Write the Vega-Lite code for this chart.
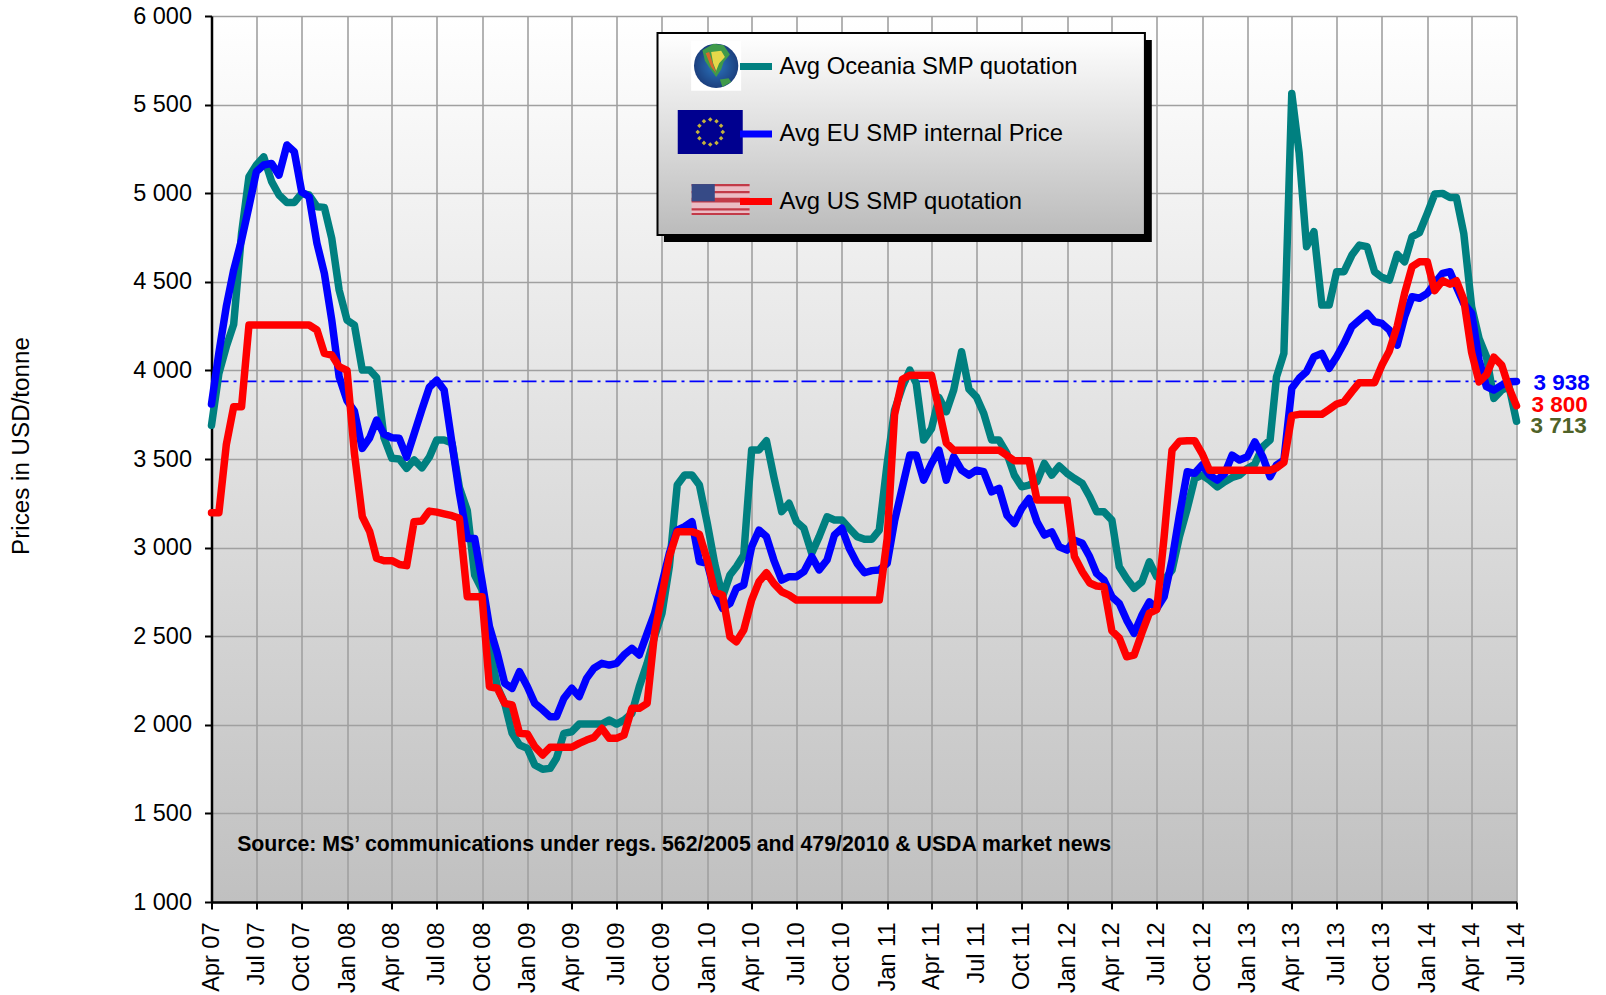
{"$schema":"https://vega.github.io/schema/vega-lite/v6.json","width":1305,"height":886,"autosize":"none","padding":{"left":211.5,"top":16,"right":89.5,"bottom":93},"background":"white","config":{"font":"Liberation Sans","axis":{"labelColor":"#000000","titleColor":"#000000"}},"view":{"stroke":null,"fill":{"gradient":"linear","x1":0,"y1":0,"x2":0,"y2":1,"stops":[{"offset":0,"color":"#ffffff"},{"offset":1,"color":"#c0c0c0"}]}},"datasets":{"prices":[
{"date":"2007-04-01","oceania":3690,"eu":3810,"us":3197},{"date":"2007-04-16","oceania":3983,"eu":4100,"us":3197},{"date":"2007-05-01","oceania":4134,"eu":4360,"us":3580},{"date":"2007-05-16","oceania":4260,"eu":4566,"us":3795},{"date":"2007-06-01","oceania":4773,"eu":4736,"us":3795},{"date":"2007-06-16","oceania":5093,"eu":4924,"us":4256},{"date":"2007-07-01","oceania":5159,"eu":5121,"us":4256},{"date":"2007-07-16","oceania":5205,"eu":5159,"us":4256},{"date":"2007-08-01","oceania":5065,"eu":5168,"us":4256},{"date":"2007-08-16","oceania":4990,"eu":5102,"us":4256},{"date":"2007-09-01","oceania":4948,"eu":5272,"us":4256},{"date":"2007-09-16","oceania":4948,"eu":5234,"us":4256},{"date":"2007-10-01","oceania":4999,"eu":5008,"us":4256},{"date":"2007-10-16","oceania":4990,"eu":4980,"us":4256},{"date":"2007-11-01","oceania":4924,"eu":4717,"us":4228},{"date":"2007-11-16","oceania":4920,"eu":4548,"us":4096},{"date":"2007-12-01","oceania":4745,"eu":4284,"us":4087},{"date":"2007-12-16","oceania":4453,"eu":3964,"us":4021},
{"date":"2008-01-01","oceania":4284,"eu":3830,"us":4000},{"date":"2008-01-16","oceania":4256,"eu":3770,"us":3532},{"date":"2008-02-01","oceania":4002,"eu":3560,"us":3175},{"date":"2008-02-16","oceania":4002,"eu":3620,"us":3090},{"date":"2008-03-01","oceania":3960,"eu":3720,"us":2940},{"date":"2008-03-16","oceania":3620,"eu":3640,"us":2926},{"date":"2008-04-01","oceania":3504,"eu":3620,"us":2926},{"date":"2008-04-16","oceania":3500,"eu":3617,"us":2905},{"date":"2008-05-01","oceania":3447,"eu":3510,"us":2898},{"date":"2008-05-16","oceania":3495,"eu":3640,"us":3146},{"date":"2008-06-01","oceania":3450,"eu":3780,"us":3150},{"date":"2008-06-16","oceania":3510,"eu":3905,"us":3206},{"date":"2008-07-01","oceania":3607,"eu":3945,"us":3200},{"date":"2008-07-16","oceania":3607,"eu":3890,"us":3190},{"date":"2008-08-01","oceania":3590,"eu":3588,"us":3180},{"date":"2008-08-16","oceania":3340,"eu":3306,"us":3165},{"date":"2008-09-01","oceania":3210,"eu":3052,"us":2723},{"date":"2008-09-16","oceania":2845,"eu":3052,"us":2723},{"date":"2008-10-01","oceania":2761,"eu":2810,"us":2723},{"date":"2008-10-16","oceania":2441,"eu":2554,"us":2215},{"date":"2008-11-01","oceania":2215,"eu":2403,"us":2206},{"date":"2008-11-16","oceania":2121,"eu":2234,"us":2121},{"date":"2008-12-01","oceania":1952,"eu":2206,"us":2112},{"date":"2008-12-16","oceania":1886,"eu":2300,"us":1952},
{"date":"2009-01-01","oceania":1867,"eu":2215,"us":1948},{"date":"2009-01-16","oceania":1773,"eu":2121,"us":1877},{"date":"2009-02-01","oceania":1749,"eu":2084,"us":1830},{"date":"2009-02-16","oceania":1754,"eu":2046,"us":1873},{"date":"2009-03-01","oceania":1811,"eu":2046,"us":1873},{"date":"2009-03-16","oceania":1952,"eu":2149,"us":1873},{"date":"2009-04-01","oceania":1961,"eu":2206,"us":1873},{"date":"2009-04-16","oceania":2004,"eu":2159,"us":1895},{"date":"2009-05-01","oceania":2004,"eu":2262,"us":1914},{"date":"2009-05-16","oceania":2004,"eu":2319,"us":1929},{"date":"2009-06-01","oceania":2004,"eu":2347,"us":1980},{"date":"2009-06-16","oceania":2027,"eu":2337,"us":1924},{"date":"2009-07-01","oceania":2004,"eu":2347,"us":1924},{"date":"2009-07-16","oceania":2027,"eu":2394,"us":1942},{"date":"2009-08-01","oceania":2065,"eu":2431,"us":2093},{"date":"2009-08-16","oceania":2215,"eu":2394,"us":2093},{"date":"2009-09-01","oceania":2347,"eu":2516,"us":2121},{"date":"2009-09-16","oceania":2497,"eu":2629,"us":2516},{"date":"2009-10-01","oceania":2629,"eu":2798,"us":2732},{"date":"2009-10-16","oceania":2892,"eu":2968,"us":2949},{"date":"2009-11-01","oceania":3353,"eu":3099,"us":3090},{"date":"2009-11-16","oceania":3410,"eu":3118,"us":3090},{"date":"2009-12-01","oceania":3410,"eu":3146,"us":3090},{"date":"2009-12-16","oceania":3353,"eu":2921,"us":3075},
{"date":"2010-01-01","oceania":3137,"eu":2911,"us":2930},{"date":"2010-01-16","oceania":2911,"eu":2751,"us":2751},{"date":"2010-02-01","oceania":2723,"eu":2657,"us":2732},{"date":"2010-02-16","oceania":2845,"eu":2685,"us":2497},{"date":"2010-03-01","oceania":2892,"eu":2770,"us":2469},{"date":"2010-03-16","oceania":2958,"eu":2789,"us":2535},{"date":"2010-04-01","oceania":3551,"eu":3005,"us":2704},{"date":"2010-04-16","oceania":3551,"eu":3099,"us":2808},{"date":"2010-05-01","oceania":3603,"eu":3062,"us":2858},{"date":"2010-05-16","oceania":3400,"eu":2930,"us":2798},{"date":"2010-06-01","oceania":3203,"eu":2817,"us":2751},{"date":"2010-06-16","oceania":3250,"eu":2836,"us":2732},{"date":"2010-07-01","oceania":3146,"eu":2836,"us":2704},{"date":"2010-07-16","oceania":3109,"eu":2864,"us":2704},{"date":"2010-08-01","oceania":2968,"eu":2949,"us":2704},{"date":"2010-08-16","oceania":3062,"eu":2874,"us":2704},{"date":"2010-09-01","oceania":3174,"eu":2930,"us":2704},{"date":"2010-09-16","oceania":3156,"eu":3071,"us":2704},{"date":"2010-10-01","oceania":3156,"eu":3109,"us":2704},{"date":"2010-10-16","oceania":3109,"eu":2996,"us":2704},{"date":"2010-11-01","oceania":3062,"eu":2911,"us":2704},{"date":"2010-11-16","oceania":3047,"eu":2858,"us":2704},{"date":"2010-12-01","oceania":3047,"eu":2870,"us":2704},{"date":"2010-12-16","oceania":3099,"eu":2874,"us":2704},
{"date":"2011-01-01","oceania":3475,"eu":2911,"us":3050},{"date":"2011-01-16","oceania":3776,"eu":3150,"us":3750},{"date":"2011-02-01","oceania":3908,"eu":3343,"us":3950},{"date":"2011-02-16","oceania":4002,"eu":3522,"us":3973},{"date":"2011-03-01","oceania":3926,"eu":3522,"us":3973},{"date":"2011-03-16","oceania":3607,"eu":3381,"us":3973},{"date":"2011-04-01","oceania":3672,"eu":3475,"us":3973},{"date":"2011-04-16","oceania":3847,"eu":3550,"us":3780},{"date":"2011-05-01","oceania":3767,"eu":3381,"us":3590},{"date":"2011-05-16","oceania":3889,"eu":3513,"us":3550},{"date":"2011-06-01","oceania":4105,"eu":3437,"us":3550},{"date":"2011-06-16","oceania":3894,"eu":3409,"us":3550},{"date":"2011-07-01","oceania":3851,"eu":3437,"us":3550},{"date":"2011-07-16","oceania":3757,"eu":3428,"us":3550},{"date":"2011-08-01","oceania":3607,"eu":3315,"us":3550},{"date":"2011-08-16","oceania":3607,"eu":3334,"us":3550},{"date":"2011-09-01","oceania":3531,"eu":3183,"us":3520},{"date":"2011-09-16","oceania":3409,"eu":3136,"us":3490},{"date":"2011-10-01","oceania":3343,"eu":3221,"us":3490},{"date":"2011-10-16","oceania":3353,"eu":3277,"us":3490},{"date":"2011-11-01","oceania":3372,"eu":3146,"us":3268},{"date":"2011-11-16","oceania":3475,"eu":3071,"us":3268},{"date":"2011-12-01","oceania":3409,"eu":3089,"us":3268},{"date":"2011-12-16","oceania":3460,"eu":3005,"us":3268},
{"date":"2012-01-01","oceania":3419,"eu":2986,"us":3268},{"date":"2012-01-16","oceania":3390,"eu":3042,"us":2950},{"date":"2012-02-01","oceania":3362,"eu":3024,"us":2864},{"date":"2012-02-16","oceania":3287,"eu":2948,"us":2800},{"date":"2012-03-01","oceania":3202,"eu":2854,"us":2783},{"date":"2012-03-16","oceania":3202,"eu":2817,"us":2779},{"date":"2012-04-01","oceania":3155,"eu":2723,"us":2530},{"date":"2012-04-16","oceania":2892,"eu":2685,"us":2490},{"date":"2012-05-01","oceania":2826,"eu":2591,"us":2384},{"date":"2012-05-16","oceania":2770,"eu":2516,"us":2393},{"date":"2012-06-01","oceania":2807,"eu":2619,"us":2520},{"date":"2012-06-16","oceania":2920,"eu":2694,"us":2630},{"date":"2012-07-01","oceania":2835,"eu":2657,"us":2650},{"date":"2012-07-16","oceania":2817,"eu":2723,"us":3060},{"date":"2012-08-01","oceania":2873,"eu":2930,"us":3550},{"date":"2012-08-16","oceania":3061,"eu":3183,"us":3600},{"date":"2012-09-01","oceania":3221,"eu":3428,"us":3603},{"date":"2012-09-16","oceania":3390,"eu":3419,"us":3603},{"date":"2012-10-01","oceania":3409,"eu":3466,"us":3531},{"date":"2012-10-16","oceania":3381,"eu":3409,"us":3437},{"date":"2012-11-01","oceania":3343,"eu":3381,"us":3437},{"date":"2012-11-16","oceania":3372,"eu":3419,"us":3437},{"date":"2012-12-01","oceania":3396,"eu":3522,"us":3437},{"date":"2012-12-16","oceania":3409,"eu":3494,"us":3437},
{"date":"2013-01-01","oceania":3447,"eu":3513,"us":3437},{"date":"2013-01-16","oceania":3471,"eu":3597,"us":3437},{"date":"2013-02-01","oceania":3569,"eu":3513,"us":3437},{"date":"2013-02-16","oceania":3607,"eu":3400,"us":3437},{"date":"2013-03-01","oceania":3964,"eu":3466,"us":3450},{"date":"2013-03-16","oceania":4096,"eu":3494,"us":3480},{"date":"2013-04-01","oceania":5563,"eu":3899,"us":3745},{"date":"2013-04-16","oceania":5225,"eu":3955,"us":3752},{"date":"2013-05-01","oceania":4698,"eu":3993,"us":3752},{"date":"2013-05-16","oceania":4783,"eu":4077,"us":3752},{"date":"2013-06-01","oceania":4369,"eu":4096,"us":3752},{"date":"2013-06-16","oceania":4369,"eu":4012,"us":3780},{"date":"2013-07-01","oceania":4557,"eu":4077,"us":3810},{"date":"2013-07-16","oceania":4557,"eu":4153,"us":3823},{"date":"2013-08-01","oceania":4651,"eu":4247,"us":3880},{"date":"2013-08-16","oceania":4707,"eu":4284,"us":3931},{"date":"2013-09-01","oceania":4698,"eu":4322,"us":3931},{"date":"2013-09-16","oceania":4557,"eu":4275,"us":3931},{"date":"2013-10-01","oceania":4525,"eu":4265,"us":4030},{"date":"2013-10-16","oceania":4510,"eu":4228,"us":4110},{"date":"2013-11-01","oceania":4655,"eu":4143,"us":4250},{"date":"2013-11-16","oceania":4613,"eu":4303,"us":4435},{"date":"2013-12-01","oceania":4754,"eu":4416,"us":4585},{"date":"2013-12-16","oceania":4777,"eu":4407,"us":4613},
{"date":"2014-01-01","oceania":4886,"eu":4435,"us":4613},{"date":"2014-01-16","oceania":4995,"eu":4491,"us":4450},{"date":"2014-02-01","oceania":4999,"eu":4548,"us":4506},{"date":"2014-02-16","oceania":4976,"eu":4557,"us":4487},{"date":"2014-03-01","oceania":4976,"eu":4472,"us":4506},{"date":"2014-03-16","oceania":4773,"eu":4378,"us":4400},{"date":"2014-04-01","oceania":4359,"eu":4322,"us":4100},{"date":"2014-04-16","oceania":4181,"eu":4059,"us":3935},{"date":"2014-05-01","oceania":4077,"eu":3908,"us":3975},{"date":"2014-05-16","oceania":3842,"eu":3889,"us":4075},{"date":"2014-06-01","oceania":3889,"eu":3917,"us":4030},{"date":"2014-06-16","oceania":3908,"eu":3936,"us":3900},{"date":"2014-07-01","oceania":3713,"eu":3938,"us":3800}],
"latest":[{"date":"2014-07-01","series":"eu","price":3938,"label":"3 938"},{"date":"2014-07-01","series":"us","price":3800,"label":"3 800"},{"date":"2014-07-01","series":"oceania","price":3713,"label":"3 713"}],"one":[{}]},
"layer":[
{"data":{"name":"one"},"mark":{"type":"rule","color":"#0000ff","strokeWidth":1.6,"strokeDash":[15,5,3,5]},"encoding":{"y":{"datum":3938,"type":"quantitative"}}},
{"data":{"name":"prices"},"transform":[{"fold":["oceania","eu","us"],"as":["series","price"]}],"mark":{"type":"line","strokeWidth":7.5,"strokeCap":"round","strokeJoin":"round"},"encoding":{
"x":{"field":"date","type":"temporal","scale":{"type":"utc","domain":[{"year":2007,"month":"apr","date":1,"utc":true},{"year":2014,"month":"jul","date":1,"utc":true}]},"axis":{"title":null,"format":"%b %y","tickCount":{"interval":"month","step":3},"labelAngle":-90,"labelAlign":"right","labelBaseline":"middle","labelFontSize":23.5,"labelPadding":13,"labelOverlap":false,"labelFlush":false,"tickSize":7,"tickWidth":2,"tickColor":"#000000","domainColor":"#000000","domainWidth":2.5,"grid":true,"gridColor":"#a0a0a0","gridWidth":1.6,"gridOpacity":1}},
"y":{"field":"price","type":"quantitative","scale":{"domain":[1000,6000],"nice":false,"zero":false},"axis":{"title":"Prices in USD/tonne","titleFontSize":24.2,"titleFontWeight":"normal","titleX":-190,"titleY":429.5,"titleAngle":-90,"titleAlign":"center","titleBaseline":"middle","values":[1000,1500,2000,2500,3000,3500,4000,4500,5000,5500,6000],"labelExpr":"replace(format(datum.value,','),',',' ')","labelFontSize":23.5,"labelPadding":13,"tickSize":7,"tickWidth":2,"tickColor":"#000000","domainColor":"#000000","domainWidth":2.5,"grid":true,"gridColor":"#a0a0a0","gridWidth":1.6,"gridOpacity":1}},
"color":{"field":"series","type":"nominal","scale":{"domain":["oceania","eu","us"],"range":["#008080","#0000ff","#ff0000"]},"legend":{"title":null,"orient":"none","legendX":525,"legendY":31,"padding":0,"symbolType":"stroke","symbolSize":1024,"symbolStrokeWidth":7,"rowPadding":33.5,"labelFontSize":23.8,"labelColor":"#000000","labelLimit":600,"labelOffset":4,"labelExpr":"datum.label==='oceania'?'Avg Oceania SMP quotation':datum.label==='eu'?'Avg EU SMP internal Price':'Avg US SMP quotation'"}}}},
{"data":{"name":"one"},"mark":{"type":"rect","color":"#000000"},"encoding":{"x":{"datum":{"year":2009,"month":"oct","date":5,"utc":true},"type":"temporal"},"x2":{"datum":{"year":2012,"month":"jun","date":21,"utc":true}},"y":{"datum":5865,"type":"quantitative"},"y2":{"datum":4725}}},
{"data":{"name":"one"},"mark":{"type":"rect","stroke":"#000000","strokeWidth":2,"fill":{"gradient":"linear","x1":0,"y1":0,"x2":0,"y2":1,"stops":[{"offset":0,"color":"#ffffff"},{"offset":1,"color":"#bbbbbb"}]}},"encoding":{"x":{"datum":{"year":2009,"month":"sep","date":22,"utc":true},"type":"temporal"},"x2":{"datum":{"year":2012,"month":"jun","date":7,"utc":true}},"y":{"datum":5904,"type":"quantitative"},"y2":{"datum":4764}}},
{"data":{"name":"one"},"encoding":{"x":{"datum":{"year":2010,"month":"jan","date":19,"utc":true},"type":"temporal"},"y":{"datum":5719,"type":"quantitative"}},"layer":[
{"mark":{"type":"point","shape":"square","filled":true,"size":2500,"color":"#ffffff","opacity":1}},
{"mark":{"type":"point","shape":"circle","filled":true,"size":1963,"opacity":1,"fill":{"gradient":"radial","x1":0.5,"y1":0.5,"x2":0.5,"y2":0.5,"r1":0.05,"r2":0.55,"stops":[{"offset":0,"color":"#2a70b8"},{"offset":1,"color":"#1a3a78"}]}}},
{"mark":{"type":"point","shape":"M-0.55,-0.62L-0.1,-0.88L0.3,-0.82L0.55,-0.45L0.3,-0.15L0.2,0.15L0,0.45L-0.25,0.1L-0.45,-0.2Z","filled":true,"size":2500,"color":"#3f9a4a","opacity":1}},
{"mark":{"type":"point","shape":"M-0.2,-0.55L0.2,-0.6L0.35,-0.35L0.12,-0.1L0,0.2L-0.12,-0.1Z","filled":true,"size":2500,"color":"#e6d84a","opacity":1}},
{"mark":{"type":"point","shape":"M-0.42,-0.5L-0.28,-0.55L-0.12,-0.05L0,0.3L-0.2,0.05Z","filled":true,"size":2500,"color":"#d9662c","opacity":1}},
{"mark":{"type":"point","shape":"M0.15,0.55L0.5,0.5L0.6,0.65L0.25,0.85Z","filled":true,"size":2500,"color":"#3f9a4a","opacity":1}}]},
{"data":{"name":"one"},"encoding":{"x":{"datum":{"year":2010,"month":"jan","date":7,"utc":true},"type":"temporal"},"y":{"datum":5345,"type":"quantitative"}},"layer":[
{"mark":{"type":"point","shape":"M-1,-0.677H1V0.677H-1Z","filled":true,"size":4225,"color":"#00008f","opacity":1}},
{"mark":{"type":"point","shape":"M0,-0.455L0.07,-0.385L0,-0.315L-0.07,-0.385ZM0.193,-0.403L0.263,-0.333L0.193,-0.263L0.123,-0.333ZM0.333,-0.263L0.403,-0.193L0.333,-0.123L0.263,-0.193ZM0.385,-0.07L0.455,0L0.385,0.07L0.315,0ZM0.333,0.123L0.403,0.193L0.333,0.263L0.263,0.193ZM0.193,0.263L0.263,0.333L0.193,0.403L0.123,0.333ZM0,0.315L0.07,0.385L0,0.455L-0.07,0.385ZM-0.193,0.263L-0.123,0.333L-0.193,0.403L-0.263,0.333ZM-0.333,0.123L-0.263,0.193L-0.333,0.263L-0.403,0.193ZM-0.385,-0.07L-0.315,0L-0.385,0.07L-0.455,0ZM-0.333,-0.263L-0.263,-0.193L-0.333,-0.123L-0.403,-0.193ZM-0.193,-0.403L-0.123,-0.333L-0.193,-0.263L-0.263,-0.333Z","filled":true,"size":4225,"color":"#c4b23c","opacity":1}}]},
{"data":{"name":"one"},"encoding":{"x":{"datum":{"year":2010,"month":"jan","date":28,"utc":true},"type":"temporal"},"y":{"datum":4964,"type":"quantitative"}},"layer":[
{"mark":{"type":"point","shape":"M-1,-0.534H1V0.534H-1Z","filled":true,"size":3364,"color":"#ebbcc4","opacity":1}},
{"mark":{"type":"point","shape":"M-1,-0.534H1V-0.46H-1ZM-1,-0.3H1V-0.22H-1ZM-1,-0.06H1V0.1H-1ZM-1,0.3H1V0.38H-1ZM-1,0.46H1V0.534H-1Z","filled":true,"size":3364,"color":"#c23a48","opacity":1}},
{"mark":{"type":"point","shape":"M-1,-0.534H-0.2V0.06H-1Z","filled":true,"size":3364,"color":"#364a86","opacity":1}}]},
{"data":{"name":"one"},"mark":{"type":"text","text":"Source: MS’ communications under regs. 562/2005 and 479/2010 & USDA  market news","align":"left","baseline":"middle","fontWeight":"bold","fontSize":21.3,"color":"#000000"},"encoding":{"x":{"datum":{"year":2007,"month":"may","date":23,"utc":true},"type":"temporal"},"y":{"datum":1322,"type":"quantitative"}}},
{"data":{"name":"latest"},"transform":[{"filter":"datum.series==='eu'"}],"mark":{"type":"text","align":"left","baseline":"middle","fontWeight":"bold","fontSize":22.5,"dx":17,"dy":2,"color":"#0000ff"},"encoding":{"x":{"field":"date","type":"temporal"},"y":{"field":"price","type":"quantitative"},"text":{"field":"label"}}},
{"data":{"name":"latest"},"transform":[{"filter":"datum.series==='us'"}],"mark":{"type":"text","align":"left","baseline":"middle","fontWeight":"bold","fontSize":22.5,"dx":15,"dy":-1,"color":"#ff0000"},"encoding":{"x":{"field":"date","type":"temporal"},"y":{"field":"price","type":"quantitative"},"text":{"field":"label"}}},
{"data":{"name":"latest"},"transform":[{"filter":"datum.series==='oceania'"}],"mark":{"type":"text","align":"left","baseline":"middle","fontWeight":"bold","fontSize":22.5,"dx":14,"dy":5,"color":"#4f6228"},"encoding":{"x":{"field":"date","type":"temporal"},"y":{"field":"price","type":"quantitative"},"text":{"field":"label"}}}
]}
